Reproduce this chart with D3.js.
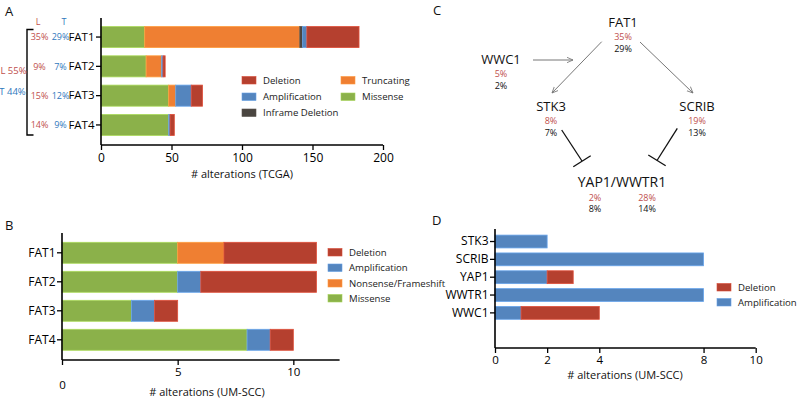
<!DOCTYPE html>
<html><head><meta charset="utf-8">
<script src="https://cdn.jsdelivr.net/npm/d3@7"></script>
<style>
body{margin:0;background:#fff;}
svg{font-family:"Open Sans",sans-serif;}
</style></head><body>
<svg id="c" width="800" height="400"></svg>
<script>
// ---------- DATA ----------
// Panel A (TCGA)
const genesA = ["FAT1","FAT2","FAT3","FAT4"];
const keysA = ["Missense","Truncating","Inframe Deletion","Amplification","Deletion"];
const missenseA = [31,32,48,48];
const truncatingA = [110,11,5,0];
const inframeA = [2,0,0,0];
const amplificationA = [3,1,11,1];
const deletionA = [37,1.5,8,3];
const pctLA = ["35%","9%","15%","14%"];
const pctTA = ["29%","7%","12%","9%"];
const ticksA = [0,50,100,150,200];
const legendA = ["Deletion","Truncating","Amplification","Missense","Inframe Deletion"];

// Panel B (UM-SCC)
const genesB = ["FAT1","FAT2","FAT3","FAT4"];
const keysB = ["Missense","Nonsense/Frameshift","Amplification","Deletion"];
const missenseB = [5,5,3,8];
const nonsenseB = [2,0,0,0];
const amplificationB = [0,1,1,1];
const deletionB = [4,5,1,1];
const ticksB = [0,5,10];
const legendB = ["Deletion","Amplification","Nonsense/Frameshift","Missense"];

// Panel C (pathway)
const nodesC = ["FAT1","WWC1","STK3","SCRIB"];
const pctLC = ["35%","5%","8%","19%"];
const pctTC = ["29%","2%","7%","13%"];
const yapLabel = "YAP1/WWTR1";
const yapPctL = ["2%","28%"];
const yapPctT = ["8%","14%"];

// Panel D (UM-SCC)
const genesD = ["STK3","SCRIB","YAP1","WWTR1","WWC1"];
const keysD = ["Amplification","Deletion"];
const amplificationD = [2,8,2,8,1];
const deletionD = [0,0,1,0,3];
const ticksD = [0,2,4,8,10];
const legendD = ["Deletion","Amplification"];

// ---------- STYLE ----------
const col = {"Missense":"#8bb14a","Truncating":"#ef7f32","Nonsense/Frameshift":"#ef7f32",
  "Inframe Deletion":"#4a4540","Amplification":"#5485be","Deletion":"#b5402f"};
const red = "#c0504d", blue = "#2f78bd";

const svg = d3.select("#c");

function stackBars(g, rows, keys, x, y){
  const st = d3.stack().keys(keys)(rows);
  g.selectAll("g.s").data(st).join("g").attr("fill", d=>col[d.key])
    .each(function(s){
      d3.select(this).selectAll("rect").data(s.filter(d=>d[1]-d[0]>0)).join("rect")
        .attr("x", d=>x(d[0])).attr("width", d=>x(d[1])-x(d[0]))
        .attr("y", d=>y(d.data.gene)).attr("height", y.bandwidth())
        .attr("stroke", d3.color(col[s.key]).brighter(0.6)).attr("stroke-width",0.8);
    });
}
function axes(g, x, y, ticks, yTop, yBot, fontTick, fontCat){
  const xa = g.append("g").attr("transform",`translate(0,${yBot})`)
    .call(d3.axisBottom(x).tickValues(ticks).tickSize(5).tickSizeOuter(0));
  xa.select(".domain").remove();
  xa.selectAll("line").attr("stroke","#000").attr("stroke-width",1.3);
  xa.selectAll("text").attr("font-size",fontTick).attr("fill","#000").attr("font-family","Open Sans");
  g.append("line").attr("x1",x.range()[0]).attr("x2",x.range()[1]).attr("y1",yBot).attr("y2",yBot).attr("stroke","#000").attr("stroke-width",1.6);
  const ya = g.append("g").attr("transform",`translate(${x.range()[0]},0)`)
    .call(d3.axisLeft(y).tickSize(5).tickSizeOuter(0).tickPadding(1.5));
  ya.select(".domain").remove();
  ya.selectAll("line").attr("stroke","#000").attr("stroke-width",1.3);
  ya.selectAll("text").attr("font-size",fontCat).attr("fill","#000").attr("font-family","Open Sans");
  g.append("line").attr("x1",x.range()[0]).attr("x2",x.range()[0]).attr("y1",yTop).attr("y2",yBot).attr("stroke","#000").attr("stroke-width",1.6);
  return {xa, ya};
}
function legend(g, items, positions){
  items.forEach((k,i)=>{
    const p = positions[i];
    g.append("rect").attr("x",p[0]).attr("y",p[1]-3.5).attr("width",14).attr("height",7.5).attr("fill",col[k])
      .attr("stroke",d3.color(col[k]).brighter(0.5)).attr("stroke-width",0.6);
    g.append("text").attr("x",p[0]+21).attr("y",p[1]+3.5).attr("font-size",9.6).attr("fill","#222").text(k);
  });
}
function label(t,x,y){ svg.append("text").attr("x",x).attr("y",y).attr("font-size",13).attr("fill","#111").text(t); }

// ---------- PANEL A ----------
{
  const g = svg.append("g");
  const rows = genesA.map((gene,i)=>({gene, "Missense":missenseA[i],"Truncating":truncatingA[i],
     "Inframe Deletion":inframeA[i],"Amplification":amplificationA[i],"Deletion":deletionA[i]}));
  const x = d3.scaleLinear().domain([0,200]).range([101,383]);
  const y = d3.scaleBand().domain(genesA).range([22.4,139.6]).paddingInner(0.28).paddingOuter(0.14);
  stackBars(g, rows, keysA, x, y);
  axes(g, x, y, ticksA, 18, 145, 12, 11.5);
  g.append("text").attr("x",242).attr("y",178).attr("text-anchor","middle").attr("font-size",11).attr("fill","#111").text("# alterations (TCGA)");
  legend(g, legendA, [[242,80],[341,80],[242,96.5],[341,96.5],[242,112.5]]);
  // percentages
  g.append("text").attr("x",38).attr("y",25).attr("text-anchor","middle").attr("font-size",9).attr("fill",red).text("L");
  g.append("text").attr("x",64).attr("y",25).attr("text-anchor","middle").attr("font-size",9).attr("fill",blue).text("T");
  genesA.forEach((gn,i)=>{
    const cy = y(gn)+y.bandwidth()/2+3.3;
    g.append("text").attr("x",39.5).attr("y",cy).attr("text-anchor","middle").attr("font-size",9).attr("fill",red).text(pctLA[i]);
    g.append("text").attr("x",60.5).attr("y",cy).attr("text-anchor","middle").attr("font-size",9).attr("fill",blue).text(pctTA[i]);
  });
  g.append("path").attr("d","M33.5,29.5H27V135H33.5").attr("fill","none").attr("stroke","#000").attr("stroke-width",1.4);
  g.append("text").attr("x",13.5).attr("y",74).attr("text-anchor","middle").attr("font-size",9.5).attr("fill",red).text("L 55%");
  g.append("text").attr("x",12.5).attr("y",95).attr("text-anchor","middle").attr("font-size",9.5).attr("fill",blue).text("T 44%");
  label("A",5,16);
}

// ---------- PANEL B ----------
{
  const g = svg.append("g");
  const rows = genesB.map((gene,i)=>({gene,"Missense":missenseB[i],"Nonsense/Frameshift":nonsenseB[i],
     "Amplification":amplificationB[i],"Deletion":deletionB[i]}));
  const x = d3.scaleLinear().domain([0,12]).range([62,339.6]);
  const y = d3.scaleBand().domain(genesB).range([238.3,354.3]).paddingInner(0.276).paddingOuter(0.138);
  stackBars(g, rows, keysB, x, y);
  const {xa} = axes(g, x, y, ticksB, 233, 360, 11.5, 12);
  xa.selectAll("text").filter(d=>d===0).attr("dy","1.85em");
  g.append("text").attr("x",207).attr("y",395.5).attr("text-anchor","middle").attr("font-size",11).attr("fill","#111").text("# alterations (UM-SCC)");
  legend(g, legendB, [[328,252],[328,267.5],[328,283],[328,298]]);
  label("B",5,230);
}

// ---------- PANEL C ----------
{
  const g = svg.append("g");
  const pos = {FAT1:[623,23], WWC1:[501,60], STK3:[551,107], SCRIB:[697,107]};
  nodesC.forEach((n,i)=>{
    const p = pos[n];
    g.append("text").attr("x",p[0]).attr("y",p[1]+4).attr("text-anchor","middle").attr("font-size",13).attr("fill","#111").text(n);
    g.append("text").attr("x",p[0]).attr("y",p[1]+17.3).attr("text-anchor","middle").attr("font-size",9).attr("fill",red).text(pctLC[i]);
    g.append("text").attr("x",p[0]).attr("y",p[1]+28.8).attr("text-anchor","middle").attr("font-size",9).attr("fill","#111").text(pctTC[i]);
  });
  g.append("text").attr("x",622).attr("y",186.5).attr("text-anchor","middle").attr("font-size",14).attr("fill","#111").text(yapLabel);
  [595,647].forEach((xx,i)=>{
    g.append("text").attr("x",xx).attr("y",200.5).attr("text-anchor","middle").attr("font-size",9).attr("fill",red).text(yapPctL[i]);
    g.append("text").attr("x",xx).attr("y",212).attr("text-anchor","middle").attr("font-size",9).attr("fill","#111").text(yapPctT[i]);
  });
  const defs = svg.append("defs");
  defs.append("marker").attr("id","arr").attr("viewBox","0 0 10 10").attr("refX",9).attr("refY",5)
    .attr("markerWidth",7).attr("markerHeight",7).attr("orient","auto")
    .append("path").attr("d","M0,1L9,5L0,9").attr("fill","none").attr("stroke","#777").attr("stroke-width",1.2);
  const arrows = [[533,60,573,60],[601.7,41.7,552,93],[640,42,693,93]];
  arrows.forEach(a=>g.append("line").attr("x1",a[0]).attr("y1",a[1]).attr("x2",a[2]).attr("y2",a[3])
    .attr("stroke","#777").attr("stroke-width",1).attr("marker-end","url(#arr)"));
  // inhibition
  g.append("line").attr("x1",561.7).attr("y1",130).attr("x2",582).attr("y2",161).attr("stroke","#111").attr("stroke-width",1.3);
  g.append("line").attr("x1",573.3).attr("y1",166.7).attr("x2",590.7).attr("y2",155.7).attr("stroke","#111").attr("stroke-width",1.3);
  g.append("line").attr("x1",677.3).attr("y1",128.3).attr("x2",657).attr("y2",160.5).attr("stroke","#111").attr("stroke-width",1.3);
  g.append("line").attr("x1",648.3).attr("y1",155).attr("x2",665.7).attr("y2",165.7).attr("stroke","#111").attr("stroke-width",1.3);
  label("C",433,15);
}

// ---------- PANEL D ----------
{
  const g = svg.append("g");
  const rows = genesD.map((gene,i)=>({gene,"Amplification":amplificationD[i],"Deletion":deletionD[i]}));
  const x = d3.scaleLinear().domain([0,10]).range([495,755.7]);
  const y = d3.scaleBand().domain(genesD).range([232.6,321.8]).paddingInner(0.28).paddingOuter(0.14);
  stackBars(g, rows, keysD, x, y);
  axes(g, x, y, ticksD, 229, 348, 11.5, 12);
  g.append("text").attr("x",625).attr("y",379).attr("text-anchor","middle").attr("font-size",11).attr("fill","#111").text("# alterations (UM-SCC)");
  legend(g, legendD, [[717,287],[717,302]]);
  label("D",432,225);
}
</script></body></html>
